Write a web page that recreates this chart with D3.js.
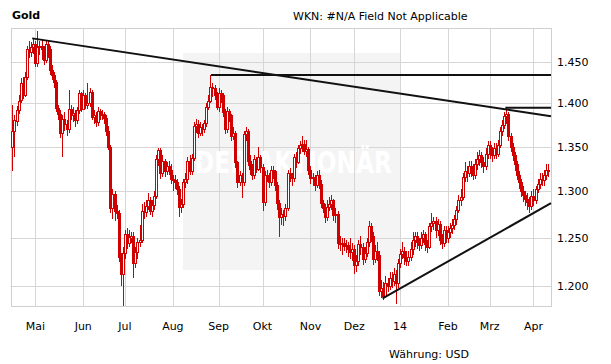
<!DOCTYPE html>
<meta charset="utf-8">
<script src="https://d3js.org/d3.v7.min.js"></script>
<style>
  body { margin: 0; background: #fff; }
  text { font-family: Verdana, "DejaVu Sans", sans-serif; font-size: 11px; fill: #000; }
</style>
<body>
<div id="chart"></div>
<script>
// Gold in USD, one candle per trading day (Mo-Fr), first day 16.04.2013
var firstDay = new Date(2013, 3, 16);

var openPrice = [
  1350,1368,1379,1392,1404,1424,1410,1432,1466,1462,
  1468,1472,1448,1468,1470,1466,1452,1472,1466,1440,
  1434,1425,1395,1388,1366,1382,1376,1370,1393,1386,
  1389,1380,1392,1412,1394,1410,1398,1400,1414,1384,
  1386,1378,1391,1388,1387,1383,1368,1350,1282,1297,
  1278,1276,1230,1212,1234,1254,1244,1250,1252,1224,
  1235,1246,1248,1279,1277,1284,1290,1278,1285,1295,
  1336,1346,1320,1334,1322,1328,1324,1313,1312,1310,
  1302,1283,1286,1310,1313,1334,1322,1337,1374,1376,
  1366,1372,1370,1377,1396,1403,1420,1418,1410,1396,
  1412,1410,1390,1370,1391,1386,1362,1366,1332,1310,
  1318,1310,1364,1368,1334,1325,1318,1336,1325,1338,
  1327,1288,1318,1316,1310,1324,1322,1307,1287,1272,
  1275,1273,1282,1320,1316,1315,1338,1333,1348,1352,
  1353,1345,1347,1324,1316,1315,1307,1318,1308,1287,
  1282,1272,1283,1286,1290,1274,1275,1244,1243,1244,
  1241,1242,1238,1235,1238,1222,1226,1243,1240,1228,
  1234,1245,1262,1252,1228,1236,1232,1195,1198,1190,
  1203,1200,1208,1205,1212,1203,1224,1233,1236,1230,
  1226,1230,1238,1248,1252,1246,1242,1250,1254,1243,
  1240,1262,1266,1268,1258,1265,1248,1244,1258,1250,
  1256,1260,1264,1270,1280,1290,1294,1316,1322,1320,
  1328,1324,1318,1330,1336,1340,1332,1328,1342,1352,
  1344,1340,1348,1342,1352,1368,1375,1385,1388,1362,
  1350,1340,1330,1318,1310,1300,1296,1292,1288,1284,
  1295,1290,1302,1308,1314,1312,1318,1324
];
var highPrice = [
  1398,1386,1397,1410,1430,1432,1438,1470,1476,1474,
  1478,1476,1488,1476,1478,1470,1476,1476,1470,1446,
  1438,1428,1398,1392,1386,1390,1380,1416,1398,1396,
  1392,1396,1416,1414,1416,1412,1424,1418,1416,1392,
  1390,1396,1394,1392,1390,1386,1374,1352,1302,1300,
  1285,1280,1234,1240,1258,1260,1258,1256,1256,1240,
  1250,1264,1286,1288,1290,1298,1294,1290,1300,1340,
  1348,1348,1340,1336,1332,1334,1330,1318,1318,1314,
  1306,1292,1314,1320,1338,1340,1342,1378,1382,1380,
  1378,1376,1380,1400,1410,1434,1424,1422,1414,1418,
  1416,1412,1394,1396,1394,1388,1372,1368,1334,1322,
  1320,1368,1372,1370,1340,1330,1340,1338,1350,1340,
  1330,1322,1324,1320,1328,1328,1324,1310,1290,1282,
  1280,1286,1324,1326,1320,1342,1344,1352,1356,1362,
  1358,1358,1350,1328,1320,1318,1322,1324,1312,1290,
  1286,1290,1294,1296,1292,1282,1278,1252,1250,1250,
  1248,1246,1250,1244,1242,1232,1248,1252,1244,1240,
  1250,1268,1266,1256,1242,1246,1236,1206,1204,1210,
  1208,1214,1214,1218,1216,1228,1238,1246,1240,1236,
  1236,1246,1256,1256,1256,1250,1256,1258,1256,1248,
  1266,1276,1272,1272,1270,1268,1254,1262,1262,1262,
  1266,1270,1274,1284,1296,1302,1320,1332,1328,1334,
  1334,1330,1336,1344,1346,1344,1338,1348,1356,1356,
  1350,1354,1354,1358,1372,1380,1390,1395,1390,1366,
  1354,1344,1334,1322,1314,1306,1300,1298,1294,1300,
  1302,1306,1314,1320,1320,1324,1330,1330
];
var lowPrice = [
  1322,1338,1374,1388,1400,1405,1408,1428,1455,1456,
  1460,1444,1444,1458,1452,1446,1448,1455,1434,1428,
  1418,1390,1380,1360,1338,1368,1362,1366,1380,1378,
  1372,1376,1388,1390,1392,1394,1394,1396,1380,1376,
  1372,1374,1380,1380,1376,1362,1346,1276,1270,1268,
  1270,1225,1200,1180,1228,1238,1240,1244,1208,1218,
  1228,1240,1244,1270,1272,1280,1274,1272,1280,1292,
  1328,1314,1316,1316,1318,1318,1308,1300,1302,1296,
  1272,1276,1282,1304,1308,1318,1318,1334,1366,1360,
  1362,1362,1366,1372,1392,1400,1408,1404,1392,1390,
  1400,1384,1364,1366,1378,1356,1358,1326,1304,1306,
  1293,1306,1356,1328,1318,1312,1314,1320,1322,1320,
  1278,1284,1310,1304,1306,1314,1300,1280,1251,1264,
  1262,1268,1278,1310,1306,1310,1326,1330,1342,1344,
  1340,1338,1318,1308,1306,1300,1304,1302,1282,1276,
  1266,1268,1278,1280,1268,1266,1238,1236,1232,1236,
  1234,1230,1228,1226,1212,1214,1220,1232,1222,1224,
  1230,1240,1246,1222,1224,1226,1190,1188,1186,1188,
  1194,1196,1198,1200,1182,1198,1218,1228,1222,1220,
  1220,1226,1232,1240,1238,1236,1238,1244,1236,1234,
  1238,1256,1258,1250,1252,1242,1238,1240,1244,1244,
  1250,1254,1258,1264,1276,1284,1290,1310,1310,1316,
  1316,1312,1314,1324,1328,1326,1320,1324,1336,1336,
  1332,1336,1336,1338,1348,1362,1370,1376,1356,1344,
  1334,1322,1312,1302,1294,1288,1284,1280,1276,1280,
  1284,1286,1298,1302,1306,1306,1312,1316
];
var closePrice = [
  1368,1380,1392,1403,1424,1410,1432,1466,1462,1468,
  1472,1448,1468,1470,1466,1452,1472,1466,1440,1434,
  1425,1395,1388,1366,1382,1376,1370,1393,1386,1389,
  1380,1392,1412,1394,1410,1398,1400,1414,1384,1386,
  1378,1391,1388,1387,1383,1368,1350,1282,1297,1278,
  1276,1230,1212,1234,1254,1244,1251,1252,1224,1235,
  1246,1248,1279,1277,1284,1290,1278,1285,1295,1336,
  1346,1320,1334,1322,1328,1324,1313,1312,1310,1302,
  1283,1286,1310,1313,1334,1322,1337,1374,1376,1366,
  1372,1370,1377,1396,1403,1420,1418,1410,1396,1412,
  1410,1390,1370,1391,1386,1362,1366,1332,1310,1318,
  1310,1364,1368,1334,1325,1318,1336,1325,1338,1327,
  1288,1318,1316,1310,1324,1322,1307,1287,1272,1275,
  1273,1282,1320,1316,1315,1338,1333,1348,1352,1353,
  1345,1347,1324,1315,1315,1307,1318,1308,1287,1282,
  1272,1283,1286,1290,1274,1275,1244,1243,1244,1241,
  1242,1238,1235,1238,1222,1226,1243,1240,1228,1234,
  1245,1262,1252,1228,1236,1232,1195,1198,1190,1203,
  1200,1208,1205,1212,1203,1224,1233,1236,1230,1226,
  1230,1238,1248,1252,1246,1242,1250,1254,1243,1240,
  1262,1266,1268,1258,1265,1248,1244,1258,1250,1256,
  1260,1264,1270,1280,1290,1294,1316,1322,1320,1328,
  1324,1318,1330,1336,1340,1332,1328,1342,1352,1344,
  1340,1348,1342,1352,1368,1375,1385,1388,1362,1350,
  1340,1330,1318,1310,1300,1296,1292,1288,1284,1295,
  1290,1302,1308,1314,1312,1318,1324,1322
];

var monthNames = ["Jan","Feb","Mrz","Apr","Mai","Jun","Jul","Aug","Sep","Okt","Nov","Dez"];
var yTicks = [1200, 1250, 1300, 1350, 1400, 1450];

// trendlines: [start day index, start price, end day index, end price]
var trendlines = [
  [9.5, 1479, 258.4, 1385],
  [95.3, 1434, 258.4, 1434],
  [236.5, 1395, 258.4, 1395],
  [177.6, 1187.5, 258.4, 1287]
];

var W = 611, H = 364;
var plotLeft = 10.5, plotRight = 551, plotTop = 28, plotBottom = 306;
var red = "#d00000";

var de = d3.formatLocale({ decimal: ",", thousands: ".", grouping: [3], currency: ["", " $"] });
var fmt = de.format(",d");

// trading days (weekdays only)
var days = [];
var d = new Date(firstDay);
while (days.length < closePrice.length) {
  if (d.getDay() % 6 !== 0) days.push(new Date(d));
  d.setDate(d.getDate() + 1);
}
var monthStarts = [];
for (var i = 1; i < days.length; i++) {
  if (days[i].getMonth() !== days[i - 1].getMonth()) monthStarts.push(i);
}

var x = d3.scaleLinear().domain([-0.9, 258.4]).range([plotLeft, plotRight]);
var y = d3.scaleLog().domain([1180, 1492]).range([plotBottom, plotTop]);

var svg = d3.select("#chart").append("svg")
  .attr("width", W)
  .attr("height", H);

// watermark box
svg.append("rect")
  .attr("x", 183).attr("y", 53)
  .attr("width", 217).attr("height", 217)
  .attr("fill", "#f4f4f4");

// grid
var grid = svg.append("g").attr("stroke", "#d6d6d6").attr("stroke-width", 1);
grid.selectAll(".hg").data(yTicks).enter().append("line")
  .attr("x1", plotLeft).attr("x2", plotRight)
  .attr("y1", function (v) { return Math.round(y(v)) + 0.5; })
  .attr("y2", function (v) { return Math.round(y(v)) + 0.5; });
grid.selectAll(".vg").data(monthStarts).enter().append("line")
  .attr("y1", plotTop).attr("y2", plotBottom)
  .attr("x1", function (i) { return Math.round(x(i)) + 0.5; })
  .attr("x2", function (i) { return Math.round(x(i)) + 0.5; });

// frame
svg.append("rect")
  .attr("x", Math.round(plotLeft) + 0.5).attr("y", plotTop + 0.5)
  .attr("width", Math.round(plotRight) - Math.round(plotLeft)).attr("height", plotBottom - plotTop)
  .attr("fill", "none").attr("stroke", "#cfcfcf");

// watermark text
svg.append("text")
  .attr("x", 195).attr("y", 173)
  .attr("textLength", 197).attr("lengthAdjust", "spacingAndGlyphs")
  .style("font-family", "'Liberation Sans Narrow', 'DejaVu Sans Condensed', sans-serif")
  .style("font-weight", "bold").style("font-size", "31px")
  .style("fill", "#ffffff")
  .text("DER AKTIONÄR");

// candles
var idx = d3.range(closePrice.length);
var candles = svg.append("g").attr("shape-rendering", "crispEdges");
candles.selectAll(".wick").data(idx).enter().append("line")
  .attr("x1", function (i) { return Math.round(x(i)) + 0.5; })
  .attr("x2", function (i) { return Math.round(x(i)) + 0.5; })
  .attr("y1", function (i) { return y(highPrice[i]); })
  .attr("y2", function (i) { return y(lowPrice[i]); })
  .attr("stroke", red);
candles.selectAll(".body").data(idx).enter().append("rect")
  .attr("x", function (i) { return Math.round(x(i)) - 0.5; })
  .attr("width", 2)
  .attr("y", function (i) { return Math.round(y(Math.max(openPrice[i], closePrice[i]))) + 0.5; })
  .attr("height", function (i) {
    return Math.max(1, Math.round(y(Math.min(openPrice[i], closePrice[i]))) - Math.round(y(Math.max(openPrice[i], closePrice[i]))));
  })
  .attr("fill", function (i) { return closePrice[i] >= openPrice[i] ? "#fff" : red; })
  .attr("stroke", red);

// trendlines
svg.selectAll(".trend").data(trendlines).enter().append("line")
  .attr("x1", function (t) { return x(t[0]); })
  .attr("y1", function (t) { return y(t[1]); })
  .attr("x2", function (t) { return x(t[2]); })
  .attr("y2", function (t) { return y(t[3]); })
  .attr("stroke", "#111")
  .attr("stroke-width", 2);

// y labels
svg.selectAll(".yl").data(yTicks).enter().append("text")
  .attr("x", 557)
  .attr("y", function (v) { return y(v) + 4; })
  .text(fmt);

// x labels
svg.selectAll(".xl").data(monthStarts).enter().append("text")
  .attr("x", function (i) { return x(i); })
  .attr("y", 330)
  .attr("text-anchor", "middle")
  .text(function (i) {
    var m = days[i].getMonth();
    return m === 0 ? String(days[i].getFullYear()).slice(2) : monthNames[m];
  });

// header / footer
svg.append("text").attr("x", 12).attr("y", 19).style("font-weight", "bold").text("Gold");
svg.append("text").attr("x", 293).attr("y", 20).text("WKN: #N/A Field Not Applicable");
svg.append("text").attr("x", 389).attr("y", 358).text("Währung: USD");
</script>
</body>
